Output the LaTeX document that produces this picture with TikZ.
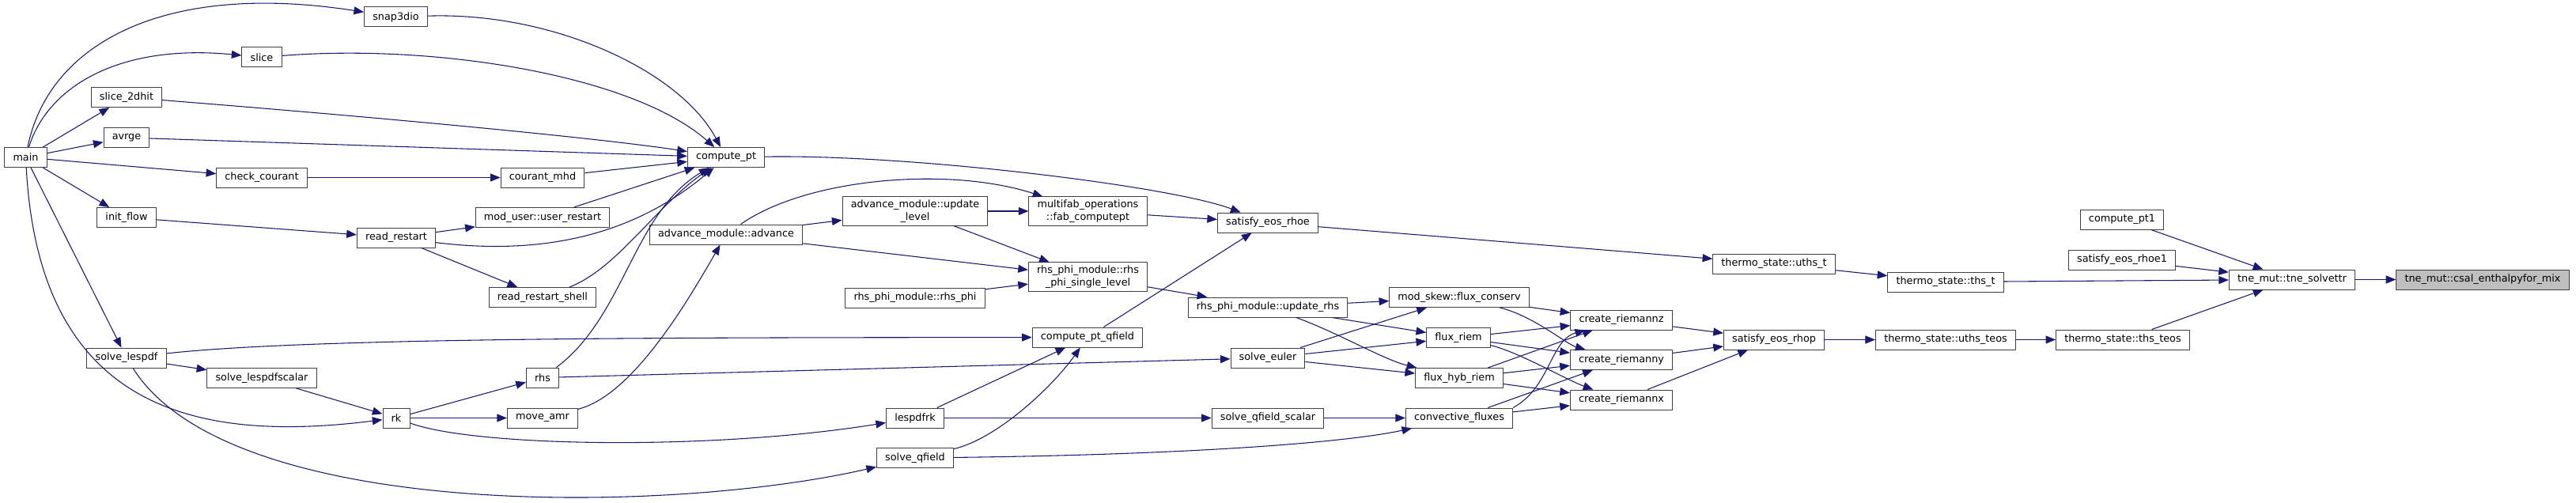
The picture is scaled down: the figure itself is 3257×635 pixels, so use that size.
\documentclass[tikz,border=0pt]{standalone}
\usepackage{fontspec}
\setmainfont{DejaVu Sans}
\usepackage{xcolor}
\usetikzlibrary{arrows.meta}
\definecolor{edgeblue}{HTML}{191970}
\definecolor{boxline}{HTML}{404040}
\definecolor{hilite}{HTML}{BFBFBF}

\begin{document}
\begin{tikzpicture}[
  x=0.75pt, y=-0.75pt,
  fn/.style={rectangle, draw=boxline, fill=white, line width=0.75pt,
             font=\fontsize{9.6}{11.5}\selectfont, align=center,
             inner xsep=8pt, inner ysep=3pt, minimum height=18.75pt},
  call/.style={-{Triangle[length=9.5pt,width=7.5pt]}, draw=edgeblue, line width=0.8pt}
]
  \useasboundingbox (0,0) rectangle (3257,635);

  \node[fn] (main)     at (32.5,199)   {main};
  \node[fn] (snap)     at (500.5,21.5) {snap3dio};
  \node[fn] (slice)    at (331,72.5)   {slice};
  \node[fn] (slice2d)  at (160,123)    {slice\_2dhit};
  \node[fn] (avrge)    at (160,174)    {avrge};
  \node[fn] (checkc)   at (331,224.5)  {check\_courant};
  \node[fn] (initflow) at (160,275)    {init\_flow};
  \node[fn] (lespdf)   at (160,452.5)  {solve\_lespdf};
  \node[fn] (lespdfsc) at (331,478)    {solve\_lespdfscalar};
  \node[fn] (rdrst)    at (501,300.5)  {read\_restart};
  \node[fn] (rk)       at (501,528.5)  {rk};
  \node[fn] (courant)  at (686,224.5)  {courant\_mhd};
  \node[fn] (usrrst)   at (686,275)    {mod\_user::user\_restart};
  \node[fn] (rdshell)  at (686,376)    {read\_restart\_shell};
  \node[fn] (rhs)      at (686,477.5)  {rhs};
  \node[fn] (moveamr)  at (686,528.5)  {move\_amr};
  \node[fn] (cpt)      at (918,199)    {compute\_pt};
  \node[fn] (advance)  at (918,296.5)  {advance\_module::advance};
  \node[fn] (updlev)   at (1157,267)   {advance\_module::update\\\_level};
  \node[fn] (rhsphi)   at (1157,376.5) {rhs\_phi\_module::rhs\_phi};
  \node[fn] (lespdfrk) at (1157,528.5) {lespdfrk};
  \node[fn] (qfield)   at (1157,579)   {solve\_qfield};
  \node[fn] (fabcpt)   at (1375.5,267) {multifab\_operations\\::fab\_computept};
  \node[fn] (rhssl)    at (1375.5,350) {rhs\_phi\_module::rhs\\\_phi\_single\_level};
  \node[fn] (cptq)     at (1375,426.5) {compute\_pt\_qfield};
  \node[fn] (eosrhoe)  at (1603,281.5) {satisfy\_eos\_rhoe};
  \node[fn] (updrhs)   at (1603,388.5) {rhs\_phi\_module::update\_rhs};
  \node[fn] (euler)    at (1603,452.5) {solve\_euler};
  \node[fn] (qfsc)     at (1603,528.5) {solve\_qfield\_scalar};
  \node[fn] (fluxc)    at (1845,376)   {mod\_skew::flux\_conserv};
  \node[fn] (fluxr)    at (1844,427)   {flux\_riem};
  \node[fn] (fluxh)    at (1845,478)   {flux\_hyb\_riem};
  \node[fn] (convf)    at (1845,528.5) {convective\_fluxes};
  \node[fn] (riemz)    at (2050,404.5) {create\_riemannz};
  \node[fn] (riemy)    at (2050,455)   {create\_riemanny};
  \node[fn] (riemx)    at (2050,505.5) {create\_riemannx};
  \node[fn] (uthst)    at (2243,333.5) {thermo\_state::uths\_t};
  \node[fn] (eosrhop)  at (2243,429.5) {satisfy\_eos\_rhop};
  \node[fn] (thst)     at (2460,356.5) {thermo\_state::ths\_t};
  \node[fn] (uthsteos) at (2460,429.5) {thermo\_state::uths\_teos};
  \node[fn] (thsteos)  at (2684,429.5) {thermo\_state::ths\_teos};
  \node[fn] (cpt1)     at (2683,277.5) {compute\_pt1};
  \node[fn] (eosrhoe1) at (2683,328.5) {satisfy\_eos\_rhoe1};
  \node[fn] (solvettr) at (2898,353.5) {tne\_mut::tne\_solvettr};
  \node[fn, fill=hilite] (csal) at (3139,353.5) {tne\_mut::csal\_enthalpyfor\_mix};

  \draw[call] (main) .. controls (60,60) and (200,-25) .. (snap);
  \draw[call] (main) .. controls (60,110) and (150,55) .. (slice);
  \draw[call] (main) -- (slice2d);
  \draw[call] (main) -- (avrge);
  \draw[call] (main) -- (checkc);
  \draw[call] (main) -- (initflow);
  \draw[call] (main) -- (lespdf);
  \draw[call] (main) .. controls (50,520) and (250,560) .. (rk);
  \draw[call] (snap) .. controls (700,15) and (860,90) .. (cpt);
  \draw[call] (slice) .. controls (550,55) and (800,95) .. (cpt);
  \draw[call] (slice2d) .. controls (500,150) and (760,175) .. (cpt);
  \draw[call] (avrge) -- (cpt);
  \draw[call] (checkc) -- (courant);
  \draw[call] (courant) -- (cpt);
  \draw[call] (initflow) -- (rdrst);
  \draw[call] (rdrst) -- (usrrst);
  \draw[call] (rdrst) .. controls (700,325) and (810,290) .. (cpt);
  \draw[call] (rdrst) -- (rdshell);
  \draw[call] (usrrst) -- (cpt);
  \draw[call] (rdshell) .. controls (780,340) and (830,260) .. (cpt);
  \draw[call] (rhs) .. controls (790,400) and (800,270) .. (cpt);
  \draw[call] (lespdf) .. controls (400,426) and (900,427) .. (cptq);
  \draw[call] (lespdf) -- (lespdfsc);
  \draw[call] (lespdf) .. controls (290,660) and (850,650) .. (qfield);
  \draw[call] (lespdfsc) -- (rk);
  \draw[call] (rk) -- (rhs);
  \draw[call] (rk) -- (moveamr);
  \draw[call] (rk) .. controls (600,565) and (900,570) .. (lespdfrk);
  \draw[call] (moveamr) .. controls (800,500) and (870,380) .. (advance);
  \draw[call] (advance) -- (updlev);
  \draw[call] (advance) .. controls (1020,225) and (1200,210) .. (fabcpt);
  \draw[call] (advance) -- (rhssl);
  \draw[call] (updlev) -- (fabcpt);
  \draw[call] (updlev) -- (rhssl);
  \draw[call] (rhsphi) -- (rhssl);
  \draw[call] (cpt) .. controls (1150,195) and (1480,235) .. (eosrhoe);
  \draw[call] (fabcpt) -- (eosrhoe);
  \draw[call] (rhssl) -- (updrhs);
  \draw[call] (cptq) -- (eosrhoe);
  \draw[call] (rhs) -- (euler);
  \draw[call] (lespdfrk) -- (cptq);
  \draw[call] (lespdfrk) -- (qfsc);
  \draw[call] (qfield) .. controls (1260,555) and (1330,490) .. (cptq);
  \draw[call] (qfield) .. controls (1500,575) and (1700,560) .. (convf);
  \draw[call] (updrhs) -- (fluxc);
  \draw[call] (updrhs) -- (fluxr);
  \draw[call] (updrhs) .. controls (1690,420) and (1750,455) .. (fluxh);
  \draw[call] (euler) -- (fluxc);
  \draw[call] (euler) -- (fluxr);
  \draw[call] (euler) -- (fluxh);
  \draw[call] (qfsc) -- (convf);
  \draw[call] (fluxc) -- (riemz);
  \draw[call] (fluxc) .. controls (1940,400) and (1980,435) .. (riemy);
  \draw[call] (fluxr) -- (riemz);
  \draw[call] (fluxr) -- (riemy);
  \draw[call] (fluxr) .. controls (1920,445) and (1980,480) .. (riemx);
  \draw[call] (fluxh) -- (riemz);
  \draw[call] (fluxh) -- (riemy);
  \draw[call] (fluxh) -- (riemx);
  \draw[call] (convf.north east) .. controls (1960,490) and (1960,430) .. (riemz);
  \draw[call] (convf) -- (riemy);
  \draw[call] (convf) -- (riemx);
  \draw[call] (riemz) -- (eosrhop);
  \draw[call] (riemy) -- (eosrhop);
  \draw[call] (riemx) -- (eosrhop);
  \draw[call] (eosrhoe) -- (uthst);
  \draw[call] (uthst) -- (thst);
  \draw[call] (eosrhop) -- (uthsteos);
  \draw[call] (uthsteos) -- (thsteos);
  \draw[call] (thst) -- (solvettr);
  \draw[call] (cpt1) -- (solvettr);
  \draw[call] (eosrhoe1) -- (solvettr);
  \draw[call] (thsteos) -- (solvettr);
  \draw[call] (solvettr) -- (csal);
\end{tikzpicture}
\end{document}
